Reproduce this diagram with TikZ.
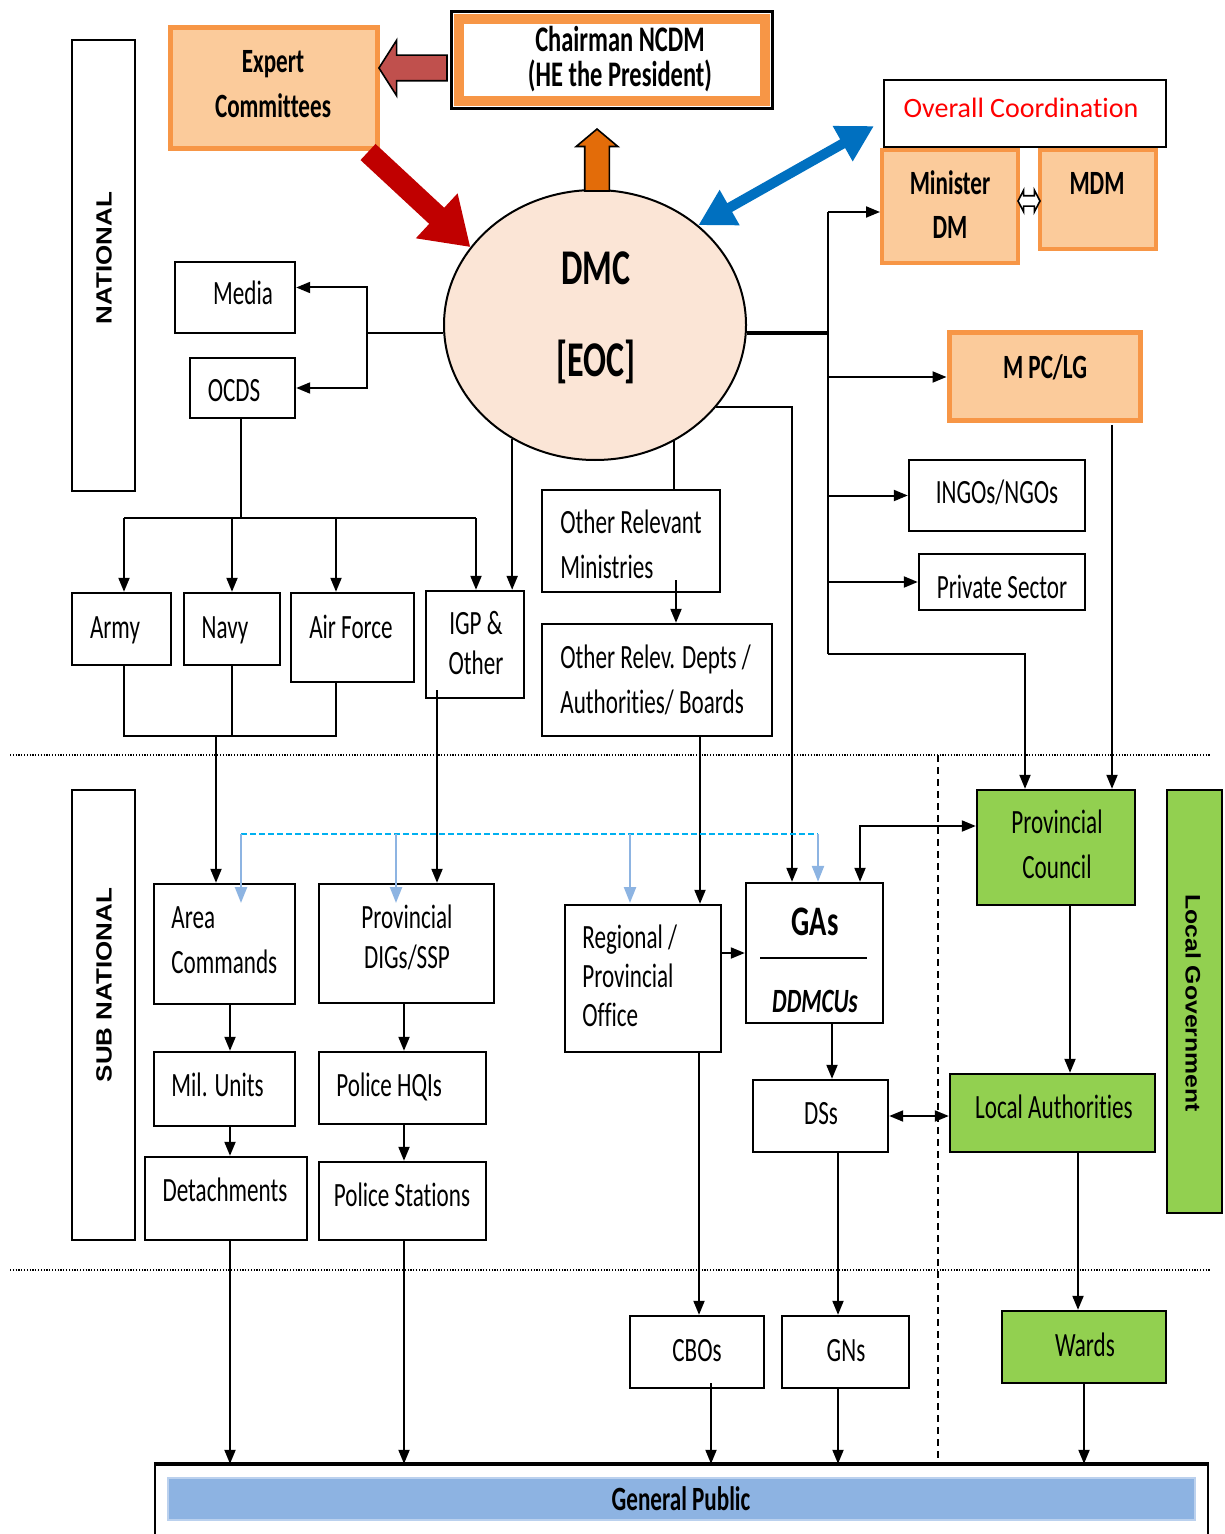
\documentclass[tikz,border=0pt]{standalone}
\usepackage{fontspec}
\setmainfont{Carlito}[FakeStretch=0.68,Ligatures=NoCommon]
\newfontfamily\ovfont{Carlito}[Ligatures=NoCommon]
\newfontfamily\arialS{Liberation Sans}[FakeStretch=1.18]
\usetikzlibrary{arrows.meta,shapes.arrows,shapes.geometric,fit}
\definecolor{orgB}{HTML}{F79646}
\definecolor{orgF}{RGB}{251,203,155}
\definecolor{grn}{HTML}{92D050}
\definecolor{dmcF}{HTML}{FBE5D6}
\definecolor{gpB}{HTML}{8DB3E2}
\definecolor{redA}{HTML}{C00000}
\definecolor{bluA}{HTML}{0070C0}
\definecolor{orA}{HTML}{E36C09}
\definecolor{brA}{HTML}{C0504D}
\definecolor{cyanD}{HTML}{00B0F0}
\definecolor{lbA}{HTML}{8DB4E2}
\newcommand\myfs[2]{\fontsize{#1}{#2}\selectfont}
\begin{document}
\begin{tikzpicture}[x=0.5pt,y=-0.5pt,
  >={Triangle[length=7pt,width=5.5pt]},
  bx/.style={draw=black,line width=1.2pt,inner sep=0pt,fill=white},
  obx/.style={draw=orgB,fill=orgF,line width=2pt,inner sep=0pt},
  gbx/.style={draw=black,fill=grn,line width=1.2pt,inner sep=0pt},
  txt/.style={inner sep=0pt,font=\myfs{17}{22.5},align=center,anchor=base},
  ltxt/.style={inner sep=0pt,font=\myfs{17}{22.5},align=left,anchor=base west},
  btxt/.style={inner sep=0pt,font=\myfs{17}{22.5}\bfseries,align=center,anchor=base},
  vtxt/.style={inner sep=0pt,font=\arialS\bfseries\myfs{11}{13}},
  conn/.style={line width=1pt,->},
  ln/.style={line width=1pt},
  lbarr/.style={lbA,line width=1.2pt,-{Triangle[length=8pt,width=6pt]}},
  dotl/.style={line width=0.7pt,dash pattern=on 0.6pt off 0.8pt},
]
\useasboundingbox (0,0) rectangle (1224,1534);

% separators
\draw[dotl] (10,755) -- (1210,755);
\draw[dotl] (10,1270) -- (1210,1270);
\draw[line width=0.8pt,dash pattern=on 3.5pt off 2.5pt] (938,755) -- (938,1460);

% level boxes
\node[bx,fit={(72,40) (135,491)}] (natl) {};
\node[vtxt,rotate=90] (natlT) at (104,258) {NATIONAL};
\node[bx,fit={(72,790) (135,1240)}] (subn) {};
\node[vtxt,rotate=90] (subnT) at (104,985) {SUB NATIONAL};
\node[gbx,fit={(1167,790) (1222,1213)}] (lg) {};
\node[vtxt,rotate=-90,font=\arialS\bfseries\myfs{10.5}{12}] (lgT) at (1193,1003) {Local Government};

% top
\node[obx,line width=2.5pt,fit={(170,28) (377,149)}] (expert) {};
\node[draw=black,line width=0.8pt,fill=white,inner sep=0pt,fit={(452,12) (772,108)}] (chair) {};
\draw[orgB,line width=5pt] ([shift={(4pt,-4pt)}]chair.north west) rectangle ([shift={(-4pt,4pt)}]chair.south east);
\draw[black,line width=0.8pt] (chair.north west) rectangle (chair.south east);
\node[single arrow,draw=black,fill=brA,line width=0.8pt,rotate=180,minimum height=34pt,minimum width=27pt,
      inner xsep=0pt,inner ysep=6pt,single arrow head extend=7.5pt,single arrow tip angle=115,anchor=tip] (ch2ex) at (378,68) {};

\node[ellipse,draw=black,line width=1pt,fill=dmcF,minimum width=151pt,minimum height=135pt,inner sep=0pt] (dmc) at (595,325) {};
\node[single arrow,draw=black,fill=orA,line width=0.8pt,rotate=90,minimum height=31pt,minimum width=20pt,
      inner xsep=0pt,inner ysep=5.75pt,single arrow head extend=4.25pt,single arrow tip angle=100,anchor=tip] (dmc2ch) at (597,128) {};

\coordinate (redst) at (368,152);
\draw[redA,line width=11pt,-{Triangle[length=23pt,width=29pt]}] (redst) -- (dmc.148);
\coordinate (bluetip) at (874,126);
\draw[bluA,line width=5pt,{Triangle[length=18pt,width=19pt]}-{Triangle[length=18pt,width=19pt]}] (dmc.44) -- (bluetip);

\node[bx,line width=1pt,fit={(884,80) (1166,147)}] (ovc) {};
\node[obx,fit={(882,150) (1018,263)}] (mindm) {};
\node[obx,fit={(1040,150) (1156,249)}] (mdm) {};
\node[double arrow,draw=black,fill=white,line width=0.8pt,minimum height=11pt,minimum width=10pt,
      inner xsep=0pt,inner ysep=2.2pt,double arrow head extend=2.8pt,double arrow tip angle=125] (mdarr) at (1029,201) {};
\node[obx,line width=2.5pt,fit={(949,333) (1140,421)}] (mpc) {};

% national boxes
\node[bx,fit={(175,262) (295,333)}] (media) {};
\node[bx,fit={(190,358) (295,418)}] (ocds) {};
\node[bx,fit={(72,593) (171,665)}] (army) {};
\node[bx,fit={(184,593) (280,665)}] (navy) {};
\node[bx,fit={(291,593) (414,682)}] (airf) {};
\node[bx,fit={(426,591) (524,698)}] (igp) {};
\node[bx,fit={(542,490) (720,592)}] (orm) {};
\node[bx,fit={(542,624) (772,736)}] (ord) {};
\node[bx,fit={(909,460) (1085,531)}] (ngo) {};
\node[bx,fit={(919,554) (1085,610)}] (ps) {};

% sub national boxes
\node[gbx,fit={(977,790) (1135,905)}] (pc) {};
\node[bx,fit={(154,884) (295,1004)}] (area) {};
\node[bx,fit={(319,884) (494,1003)}] (pdig) {};
\node[bx,fit={(565,905) (721,1052)}] (reg) {};
\node[bx,fit={(746,883) (883,1023)}] (gas) {};
\draw[line width=1.2pt] (760,958) -- (867,958);
\node[bx,fit={(154,1052) (295,1126)}] (mil) {};
\node[bx,fit={(319,1052) (486,1124)}] (phq) {};
\node[bx,fit={(145,1157) (307,1240)}] (det) {};
\node[bx,fit={(319,1162) (486,1240)}] (pstn) {};
\node[bx,fit={(753,1080) (888,1152)}] (ds) {};
\node[gbx,fit={(950,1074) (1155,1152)}] (la) {};
\node[bx,fit={(630,1316) (764,1388)}] (cbo) {};
\node[bx,fit={(782,1316) (909,1388)}] (gn) {};
\node[gbx,fit={(1002,1311) (1166,1383)}] (wards) {};

% general public
\node[draw=black,line width=1.2pt,inner sep=0pt,fit={(155,1465) (1208,1560)}] (gp) {};
\draw[line width=2pt] (gp.north west) -- (gp.north east);
\node[fill=gpB,draw=gpB!60!white,line width=0.8pt,inner sep=0pt,fit={(168,1478) (1195,1520)}] (gpbar) {};

% connectors
\coordinate (j1) at (367,333);
\draw[ln] (dmc.west |- j1) -- (j1);
\draw[conn] (j1) |- ([yshift=5pt]media.east);
\draw[conn] (j1) |- (ocds.east);

\coordinate (j2) at (241,518);
\coordinate (j2a) at (124,518);
\coordinate (j2b) at (476,518);
\coordinate (j2c) at (336,518);
\draw[ln] (ocds.south -| j2) -- (j2);
\draw[ln] (j2a) -- (j2b);
\draw[conn] (j2a) -- (j2a |- army.north);
\draw[conn] (j2 -| navy.north) -- (navy.north);
\draw[conn] (j2c) -- (j2c |- airf.north);
\draw[conn] (j2b) -- (j2b |- igp.north);
\draw[conn] (dmc.234) -- (dmc.234 |- igp.north);

\coordinate (j3a) at (124,736);
\coordinate (j3b) at (336,736);
\coordinate (j3) at (216,736);
\draw[ln] (j3a |- army.south) -- (j3a) -- (j3b) -- (j3b |- airf.south);
\draw[ln] (navy.south) -- (navy.south |- j3);
\draw[conn] (j3) -- (j3 |- area.north);

\coordinate (j4) at (437,690);
\draw[conn] (j4) -- (j4 |- pdig.north);

\draw[ln] (dmc.304) -- (dmc.304 |- orm.north);
\coordinate (j6) at (676,580);
\draw[conn] (j6) -- (j6 |- ord.north);
\coordinate (j7) at (700,736);
\draw[conn] (j7) -- (j7 |- reg.north);
\coordinate (j8) at (792,0);
\draw[conn] (dmc.326) -| (j8 |- gas.north);

\coordinate (v) at (828,333);
\coordinate (vt) at (828,212);
\coordinate (vb) at (828,654);
\draw[line width=1.8pt] (dmc.east |- v) -- (v);
\draw[ln] (vb) -- (vt);
\draw[conn] (vt) -- (vt -| mindm.west);
\draw[conn] (v |- mpc.west) -- (mpc.west);
\draw[conn] (v |- ngo.west) -- (ngo.west);
\draw[conn] (v |- ps.west) -- (ps.west);
\coordinate (j9) at (1025,654);
\draw[conn] (vb) -- (j9) -- (j9 |- pc.north);
\coordinate (j10) at (1112,425);
\draw[conn] (j10) -- (j10 |- pc.north);
\coordinate (j11) at (860,826);
\draw[conn,<->] (j11 |- gas.north) -- (j11) -- (j11 -| pc.west);

\draw[conn] (reg.east |- gas.west) -- (gas.west);
\coordinate (j13) at (832,1023);
\draw[conn] (j13) -- (j13 |- ds.north);
\draw[conn,<->] (ds.east) -- (ds.east -| la.west);
\coordinate (j15) at (1070,905);
\draw[conn] (j15) -- (j15 |- la.north);
\coordinate (j16) at (1078,1152);
\draw[conn] (j16) -- (j16 |- wards.north);
\draw[conn] (wards.south) -- (wards.south |- gp.north);

\coordinate (k1) at (230,1004);
\draw[conn] (k1) -- (k1 |- mil.north);
\draw[conn] (k1 |- mil.south) -- (k1 |- det.north);
\draw[conn] (k1 |- det.south) -- (k1 |- gp.north);
\coordinate (k2) at (404,1003);
\draw[conn] (k2) -- (k2 |- phq.north);
\draw[conn] (k2 |- phq.south) -- (k2 |- pstn.north);
\draw[conn] (k2 |- pstn.south) -- (k2 |- gp.north);
\coordinate (k3) at (699,1052);
\draw[conn] (k3) -- (k3 |- cbo.north);
\coordinate (k4) at (838,1152);
\draw[conn] (k4) -- (k4 |- gn.north);
\draw[conn] (k4 |- gn.south) -- (k4 |- gp.north);
\coordinate (k5) at (711,1383);
\draw[conn] (k5) -- (k5 |- gp.north);

% blue coordination lines
\coordinate (bd1) at (241,834);
\coordinate (bd2) at (818,834);
\coordinate (bd3) at (396,834);
\coordinate (bd4) at (630,834);
\coordinate (lb1) at (241,903);
\coordinate (lb2) at (396,903);
\coordinate (lb3) at (630,903);
\draw[cyanD,line width=1pt,dash pattern=on 3pt off 1.5pt] (bd1) -- (bd2);
\draw[lbarr] (bd1) -- (lb1);
\draw[lbarr] (bd3) -- (lb2);
\draw[lbarr] (bd4) -- (lb3);
\draw[lbarr] (bd2) -- (bd2 |- gas.north);

% texts (anchor=base is the baseline of the last line)
\node[btxt] (expertT) at (273,118) {Expert\\Committees};
\node[btxt,font=\myfs{18}{17.5}\bfseries] (chairT) at (620,87) {Chairman NCDM\\(HE the President)};
\node[btxt,font=\myfs{25}{30}\bfseries] (dmcT1) at (596,285) {DMC};
\node[btxt,font=\myfs{25}{30}\bfseries] (dmcT2) at (596,377) {[EOC]};
\node[inner sep=0pt,anchor=base,text=red,font=\ovfont\myfs{14}{16}] (ovcT) at (1021,118) {Overall Coordination};
\node[btxt,font=\myfs{17}{22}\bfseries] (mindmT) at (950,239) {Minister\\DM};
\node[btxt] (mdmT) at (1097,195) {MDM};
\node[btxt] (mpcT) at (1045,379) {M PC/LG};
\node[txt] (mediaT) at (243,305) {Media};
\node[txt] (ocdsT) at (234,401) {OCDS};
\node[txt] (armyT) at (115,638) {Army};
\node[txt] (navyT) at (225,638) {Navy};
\node[txt] (airfT) at (351,638) {Air Force};
\node[txt,font=\myfs{17}{20}] (igpT) at (476,674) {IGP \&\\Other};
\node[ltxt] (ormT) at (560,578) {Other Relevant\\Ministries};
\node[ltxt] (ordT) at (560,713) {Other Relev. Depts /\\Authorities/ Boards};
\node[txt] (ngoT) at (997,503) {INGOs/NGOs};
\node[txt] (psT) at (1002,598) {Private Sector};
\node[txt] (pcT) at (1057,878) {Provincial\\Council};
\node[ltxt] (areaT) at (171,973) {Area\\Commands};
\node[txt,font=\myfs{17}{20}] (pdigT) at (407,968) {Provincial\\DIGs/SSP};
\node[ltxt,font=\myfs{17}{19.5}] (regT) at (582,1026) {Regional /\\Provincial\\Office};
\node[btxt,font=\myfs{21}{24}\bfseries] (gasT) at (815,935) {GAs};
\node[btxt,font=\myfs{17}{20}\bfseries\itshape] (ddmT) at (815,1012) {DDMCUs};
\node[ltxt] (milT) at (171,1096) {Mil. Units};
\node[ltxt] (phqT) at (336,1096) {Police HQIs};
\node[txt] (detT) at (225,1201) {Detachments};
\node[txt] (pstnT) at (402,1206) {Police Stations};
\node[txt] (dsT) at (821,1124) {DSs};
\node[txt] (laT) at (1054,1118) {Local Authorities};
\node[txt] (cboT) at (697,1361) {CBOs};
\node[txt] (gnT) at (846,1361) {GNs};
\node[txt] (wardsT) at (1085,1356) {Wards};
\node[btxt] (gpT) at (681,1510) {General Public};
\end{tikzpicture}
\end{document}
